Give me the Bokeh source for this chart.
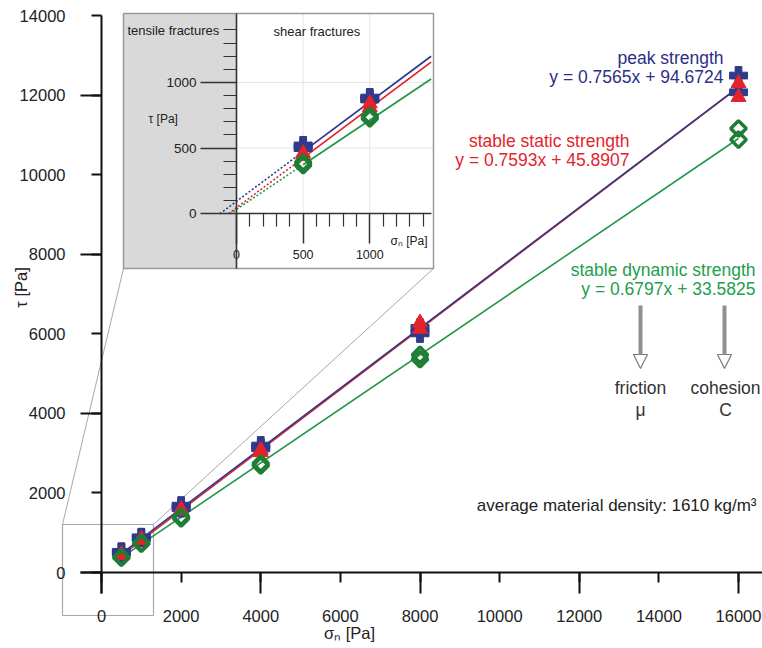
from math import pi
from bokeh.plotting import figure
from bokeh.models import Range1d, LinearAxis, FixedTicker, Label, Arrow, NormalHead
from bokeh.embed import file_html
from bokeh.resources import INLINE

# ---------------- data ----------------
SIGMA_N = [500, 500, 1000, 1000, 2000, 2000, 4000, 4000, 8000, 8000, 16000, 16000]
TAU_PEAK = [520, 500, 885, 870, 1680, 1620, 3190, 3120, 6150, 6010, 12490, 12070]
TAU_STATIC = [460, 440, 840, 810, 1590, 1550, 3080, 3020, 6280, 6120, 12300, 11950]
TAU_DYNAMIC = [390, 370, 745, 725, 1400, 1360, 2740, 2690, 5470, 5360, 11160, 10880]

FIT_PEAK = (0.7565, 94.6724)
FIT_STATIC = (0.7593, 45.8907)
FIT_DYNAMIC = (0.6797, 33.5825)

SERIES_NAMES = ["peak strength", "stable static strength", "stable dynamic strength"]
EQUATIONS = ["y = 0.7565x + 94.6724", "y = 0.7593x + 45.8907", "y = 0.6797x + 33.5825"]

X_TICKS = [0, 2000, 4000, 6000, 8000, 10000, 12000, 14000, 16000]
X_LONG_TICKS = [0, 4000, 8000, 12000, 16000]
Y_TICKS = [0, 2000, 4000, 6000, 8000, 10000, 12000, 14000]
Y_LONG_TICKS = [0, 4000, 8000, 12000]

INSET_TICKS = [0, 500, 1000]
INSET_MINOR = [100, 200, 300, 400, 600, 700, 800, 900, 1100, 1200, 1300, 1400]
INSET_GRID = [500, 1000]
INSET_MAX_SIGMA = 1000

# ---------------- colours / fonts ----------------
BLUE = "#2e3a8c"
RED = "#e3242b"
GREEN_LINE = "#23984a"
GREEN_MARK = "#1f7d36"
GREEN_TEXT = "#22a04b"
DARK = "#222222"
FONT = "Liberation Sans"

# ---------------- layout ----------------
W, H = 762, 648
OX, OY = 0, 0
# calibration of the main axes (page pixels)
X0_PX, X1_PX, X1_VAL = 101.0, 738.0, 16000.0
Y0_PX, Y1_PX, Y1_VAL = 572.0, 15.0, 14000.0
kx = (X1_PX - X0_PX) / X1_VAL
ky = (Y0_PX - Y1_PX) / Y1_VAL
MX = (-(X0_PX - OX) / kx, (OX + W - X0_PX) / kx)
MY = (-(OY + H - Y0_PX) / ky, (Y0_PX - OY) / ky)


def to_main(px, py):
    x = MX[0] + (px - OX) / W * (MX[1] - MX[0])
    y = MY[1] - (py - OY) / H * (MY[1] - MY[0])
    return x, y


# inset placement (page pixels) and its data extent
IB_L, IB_T, IB_R, IB_B = 123, 13, 433, 268
ID_X0, ID_Y0, ID_X1, ID_Y1 = -848.0, -417.0, 1478.0, 1525.0
sx = (IB_R - IB_L) / (ID_X1 - ID_X0)
sy = (IB_B - IB_T) / (ID_Y1 - ID_Y0)
INSET_XR = (ID_X0 - (IB_L - OX) / sx, ID_X1 + (OX + W - IB_R) / sx)
INSET_YR = (ID_Y0 - (OY + H - IB_B) / sy, ID_Y1 + (IB_T - OY) / sy)

p = figure(width=W, height=H, x_range=Range1d(*MX), y_range=Range1d(*MY),
           output_backend="svg", toolbar_location=None,
           x_axis_location=None, y_axis_location=None, min_border=0,
           outline_line_color=None)
p.grid.visible = False
p.extra_x_ranges = {"inset": Range1d(*INSET_XR)}
p.extra_y_ranges = {"inset": Range1d(*INSET_YR)}

# ---- zoom indicator rectangle and connectors (main coords) ----
r0 = to_main(62, 615)
r1 = to_main(153, 524)
p.quad(left=[r0[0]], right=[r1[0]], bottom=[r0[1]], top=[r1[1]],
       fill_alpha=0, line_color="#a8a8a8", line_width=1.2)
c_bl = to_main(IB_L, IB_B)
c_br = to_main(IB_R, IB_B)
p.segment(x0=[r0[0], r1[0]], y0=[r1[1], r1[1]], x1=[c_bl[0], c_br[0]], y1=[c_bl[1], c_br[1]],
          line_color="#a8a8a8", line_width=1)

# ---- main fit lines ----
lx = [min(SIGMA_N), max(SIGMA_N)]
for (a, b), col in [(FIT_DYNAMIC, GREEN_LINE), (FIT_STATIC, RED), (FIT_PEAK, BLUE)]:
    p.line(lx, [a * x + b for x in lx], line_color=col, line_width=1.6)

# ---- main markers ----
p.scatter(SIGMA_N, TAU_PEAK, marker="plus", size=18, fill_color=BLUE, line_color=BLUE)
p.scatter(SIGMA_N, TAU_STATIC, marker="triangle", size=15, fill_color=RED, line_color=RED)
p.scatter(SIGMA_N, TAU_DYNAMIC, marker="square", size=11, angle=pi / 4, fill_alpha=0,
          line_color=GREEN_MARK, line_width=3.5)

# ---- main axes ----
xaxis = LinearAxis(fixed_location=0, bounds=(-530, MX[1]),
                   ticker=FixedTicker(ticks=X_TICKS, minor_ticks=X_LONG_TICKS))
yaxis = LinearAxis(fixed_location=0, bounds=(-530, 14000),
                   ticker=FixedTicker(ticks=Y_TICKS, minor_ticks=Y_LONG_TICKS))
for ax, st in [(xaxis, 16), (yaxis, 15)]:
    ax.axis_line_color = "#111111"
    ax.axis_line_width = 2
    ax.major_tick_in = 0
    ax.major_tick_out = 10
    ax.minor_tick_in = 0
    ax.minor_tick_out = 21
    ax.major_tick_line_color = "#111111"
    ax.major_tick_line_width = 2
    ax.minor_tick_line_color = "#111111"
    ax.minor_tick_line_width = 2
    ax.major_label_text_font = FONT
    ax.major_label_text_font_size = "16.5px"
    ax.major_label_text_color = DARK
    ax.major_label_standoff = st
p.add_layout(xaxis, "below")
p.add_layout(yaxis, "left")

# ---------------- inset ----------------
IN = dict(x_range_name="inset", y_range_name="inset")
p.quad(left=[ID_X0], right=[ID_X1], bottom=[ID_Y0], top=[ID_Y1],
       fill_color="white", line_color=None, **IN)
p.quad(left=[ID_X0], right=[0], bottom=[ID_Y0], top=[ID_Y1],
       fill_color="#d9d9d9", line_color=None, **IN)
# faint grid
p.segment(x0=INSET_GRID, y0=[0] * len(INSET_GRID), x1=INSET_GRID, y1=[ID_Y1] * len(INSET_GRID),
          line_color="#e6e6e6", line_width=1, **IN)
p.segment(x0=[0] * len(INSET_GRID), y0=INSET_GRID, x1=[ID_X1] * len(INSET_GRID), y1=INSET_GRID,
          line_color="#e6e6e6", line_width=1, **IN)
p.quad(left=[ID_X0], right=[ID_X1], bottom=[ID_Y0], top=[ID_Y1],
       fill_alpha=0, line_color="#9a9a9a", line_width=1.5, **IN)

ix_end = 1460
first_x = min(SIGMA_N)
for (a, b), col in [(FIT_DYNAMIC, GREEN_LINE), (FIT_STATIC, RED), (FIT_PEAK, BLUE)]:
    x0 = -b / a
    p.line([x0, first_x], [0, a * first_x + b], line_color=col, line_width=1.6,
           line_dash="2 2", **IN)
    p.line([first_x, ix_end], [a * first_x + b, a * ix_end + b], line_color=col,
           line_width=1.8, **IN)

sel = [i for i, x in enumerate(SIGMA_N) if x <= INSET_MAX_SIGMA]
isx = [SIGMA_N[i] for i in sel]
p.scatter(isx, [TAU_PEAK[i] for i in sel], marker="plus", size=18,
          fill_color=BLUE, line_color=BLUE, **IN)
p.scatter(isx, [TAU_STATIC[i] for i in sel], marker="triangle", size=15,
          fill_color=RED, line_color=RED, **IN)
p.scatter(isx, [TAU_DYNAMIC[i] for i in sel], marker="square", size=11, angle=pi / 4,
          fill_alpha=0, line_color=GREEN_MARK, line_width=3.5, **IN)

ixaxis = LinearAxis(fixed_location=0, bounds=(0, ix_end),
                    ticker=FixedTicker(ticks=INSET_TICKS, minor_ticks=INSET_MINOR), **IN)
iyaxis = LinearAxis(fixed_location=0, bounds=(ID_Y0, ID_Y1),
                    ticker=FixedTicker(ticks=INSET_TICKS, minor_ticks=INSET_MINOR), **IN)
for ax, tout, st, fs in [(ixaxis, 30, 6, "12.5px"), (iyaxis, 36, 4, "13.5px")]:
    ax.axis_line_color = "#333333"
    ax.axis_line_width = 1.6
    ax.major_tick_in = 0
    ax.major_tick_out = tout
    ax.minor_tick_in = 0
    ax.minor_tick_out = 13
    ax.major_tick_line_color = "#333333"
    ax.major_tick_line_width = 1.5
    ax.minor_tick_line_color = "#333333"
    ax.minor_tick_line_width = 1.2
    ax.major_label_text_font = FONT
    ax.major_label_text_font_size = fs
    ax.major_label_text_color = DARK
    ax.major_label_standoff = st
p.add_layout(ixaxis, "below")
p.add_layout(iyaxis, "left")


# ---------------- texts ----------------
def add_text(text, px, py, align="center", size="17.5px", color=DARK, angle=0.0):
    x, y = to_main(px, py)
    p.add_layout(Label(x=x, y=y, text=text, text_align=align, text_baseline="middle",
                       text_font=FONT, text_font_size=size, text_color=color, angle=angle))


add_text("τ [Pa]", 20, 287, size="16.5px", angle=pi / 2)
add_text("σₙ [Pa]", 349, 632, size="16.5px")

add_text(SERIES_NAMES[0], 723, 57, align="right", color="#2b3088")
add_text(EQUATIONS[0], 723, 76, align="right", color="#2b3088")
add_text(SERIES_NAMES[1], 629, 140, align="right", color=RED)
add_text(EQUATIONS[1], 629, 159, align="right", color=RED)
add_text(SERIES_NAMES[2], 755, 269, align="right", color=GREEN_TEXT)
add_text(EQUATIONS[2], 755, 288, align="right", color=GREEN_TEXT)

add_text("friction", 640, 387, color="#333333")
add_text("μ", 640, 409, color="#333333")
add_text("cohesion", 725, 387, color="#333333")
add_text("C", 725, 409, color="#333333")
add_text("average material density: 1610 kg/m³", 756, 505, align="right", size="17px")

add_text("tensile fractures", 127, 30, align="left", size="13px")
add_text("shear fractures", 273, 31, align="left", size="13px")
add_text("τ [Pa]", 148, 118, align="left", size="12px")
add_text("σₙ [Pa]", 390, 240, align="left", size="12px")

for ax_px in (640, 724):
    xs, ys = to_main(ax_px, 305)
    xe, ye = to_main(ax_px, 368)
    p.add_layout(Arrow(x_start=xs, y_start=ys, x_end=xe, y_end=ye,
                       line_color="#8f8f8f", line_width=4,
                       end=NormalHead(size=14, fill_color="white", line_color="#7a7a7a",
                                      line_width=1.2)))

open("out.html", "w").write(file_html(p, INLINE))
